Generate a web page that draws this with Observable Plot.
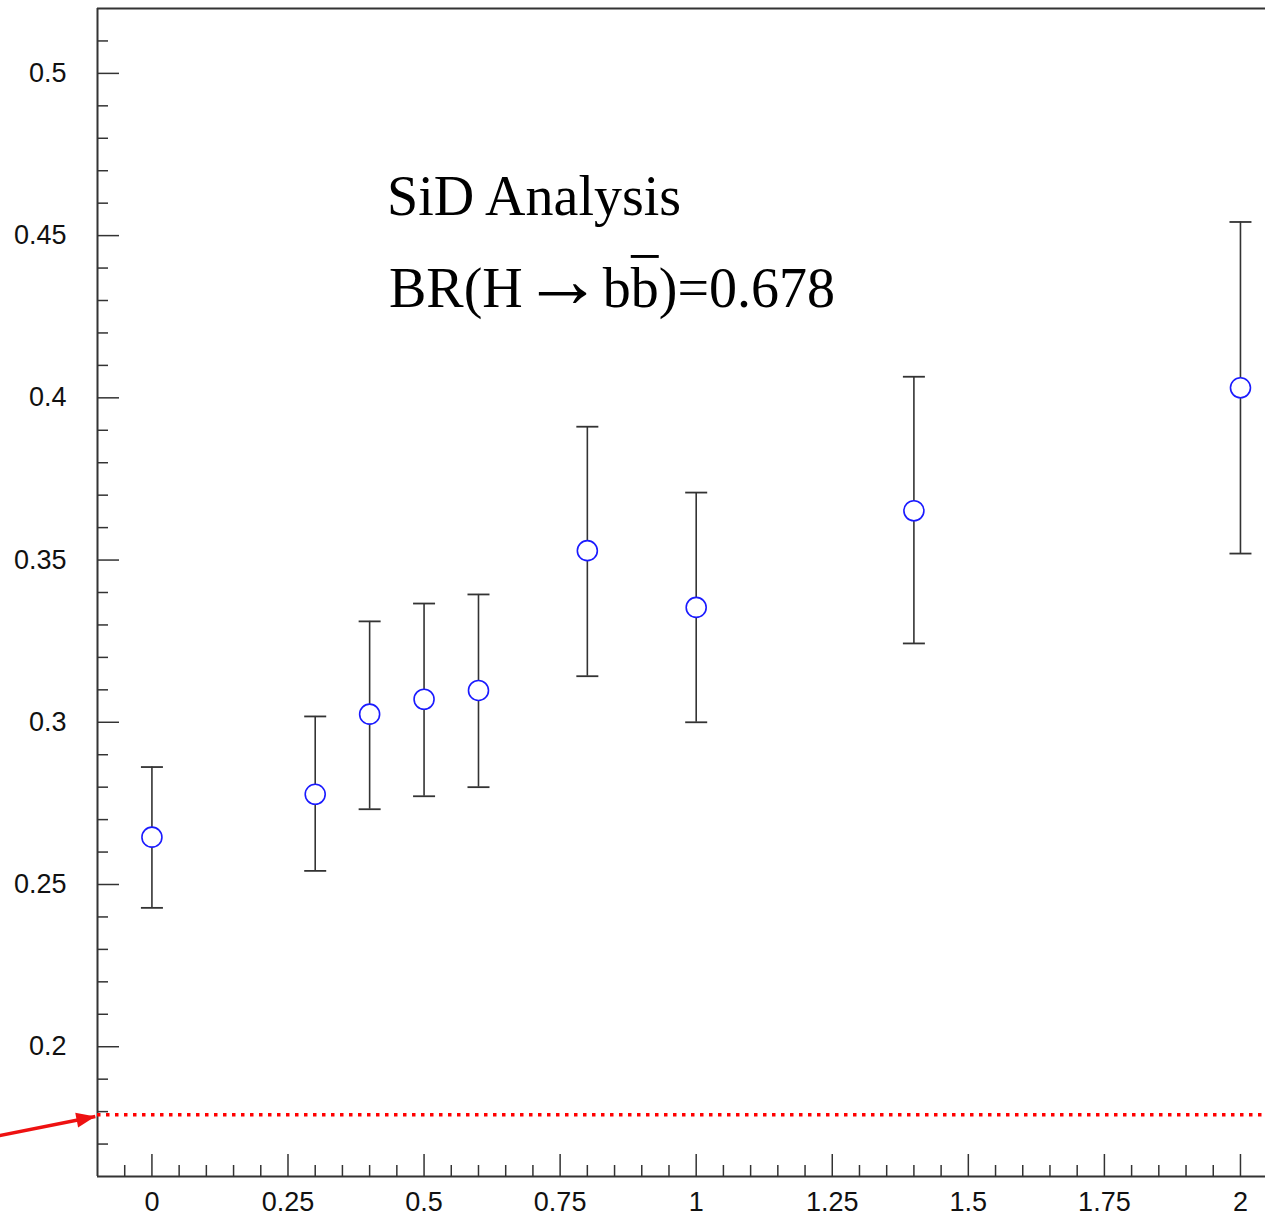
<!DOCTYPE html>
<html>
<head>
<meta charset="utf-8">
<script src="https://cdn.jsdelivr.net/npm/d3@7"></script>
<script src="https://cdn.jsdelivr.net/npm/@observablehq/plot@0.6"></script>
<style>
  html, body { margin: 0; padding: 0; background: #fff; overflow: hidden; }
  #chart svg { display: block; }
</style>
</head>
<body>
<div id="chart"></div>
<script>
// Data
const xValues = [0, 0.3, 0.4, 0.5, 0.6, 0.8, 1.0, 1.4, 2.0];
const yValues = [0.2646, 0.2778, 0.3025, 0.3071, 0.3098, 0.3529, 0.3354, 0.3652, 0.4031];
const yHigh   = [0.2862, 0.3018, 0.3311, 0.3366, 0.3394, 0.3911, 0.3708, 0.4065, 0.4542];
const yLow    = [0.2428, 0.2542, 0.2732, 0.2772, 0.2800, 0.3142, 0.3000, 0.3243, 0.3520];

// Tick labels
const xMajorTicks = [0, 0.25, 0.5, 0.75, 1, 1.25, 1.5, 1.75, 2];
const yMajorTicks = [0.2, 0.25, 0.3, 0.35, 0.4, 0.45, 0.5];
const xMinorTicks = [-0.05, 0.05, 0.1, 0.15, 0.2, 0.3, 0.35, 0.4, 0.45, 0.55, 0.6, 0.65, 0.7, 0.8, 0.85, 0.9, 0.95,
  1.05, 1.1, 1.15, 1.2, 1.3, 1.35, 1.4, 1.45, 1.55, 1.6, 1.65, 1.7, 1.8, 1.85, 1.9, 1.95];
const yMinorTicks = [0.17, 0.18, 0.19, 0.21, 0.22, 0.23, 0.24, 0.26, 0.27, 0.28, 0.29, 0.31, 0.32, 0.33, 0.34,
  0.36, 0.37, 0.38, 0.39, 0.41, 0.42, 0.43, 0.44, 0.46, 0.47, 0.48, 0.49, 0.51];

// Reference line and annotations
const referenceLevel = [0.179];
const arrowStart = [{x: -0.28, y: 0.1726}];
const arrowTip = [{x: -0.104, y: 0.1785}];
const annotationLabels = ["SiD Analysis", "BR(H\u2192bb)=0.678"];
const annotationX = [0.432, 0.4355];
const annotationY = [0.4562, 0.4279];

const points = xValues.map((x, i) => ({x, y: yValues[i], lo: yLow[i], hi: yHigh[i]}));
const ends = points.flatMap(d => [{x: d.x, y: d.lo}, {x: d.x, y: d.hi}]);
const notes = annotationLabels.map((t, i) => ({t, x: annotationX[i], y: annotationY[i]}));
const arrowLine = [{x1: arrowStart[0].x, y1: arrowStart[0].y, x2: arrowTip[0].x, y2: arrowTip[0].y}];

const capSymbol = { draw(ctx) { ctx.moveTo(-11, 0); ctx.lineTo(11, 0); } };
const headSymbol = { draw(ctx) { ctx.moveTo(0, 0); ctx.lineTo(-7.5, 19); ctx.lineTo(7.5, 19); ctx.closePath(); } };

const fmt = d => String(+d.toFixed(2));
const axisStroke = "#333";

const chart = Plot.plot({
  width: 1265,
  height: 1216,
  marginLeft: 97,
  marginRight: 0,
  marginTop: 8,
  marginBottom: 40,
  style: {fontFamily: "'Liberation Sans', Arial, sans-serif", fontSize: "27px", color: "#111", background: "#fff"},
  x: {domain: [-0.1, 2.046]},
  y: {domain: [0.16, 0.52]},
  marks: [
    // axes: labels
    Plot.axisX({ticks: xMajorTicks, tickSize: 0, tickPadding: 15, tickFormat: fmt, label: null, fill: "#111", fontSize: 27}),
    Plot.axisY({ticks: yMajorTicks, tickSize: 0, tickPadding: 31, tickFormat: fmt, label: null, fill: "#111", fontSize: 27}),
    // axes: inward ticks
    Plot.axisX({ticks: xMajorTicks, tickSize: -22, text: null, label: null, stroke: axisStroke, strokeWidth: 1.5}),
    Plot.axisX({ticks: xMinorTicks, tickSize: -11, text: null, label: null, stroke: axisStroke, strokeWidth: 1.5}),
    Plot.axisY({ticks: yMajorTicks, tickSize: -22, text: null, label: null, stroke: axisStroke, strokeWidth: 1.5}),
    Plot.axisY({ticks: yMinorTicks, tickSize: -11, text: null, label: null, stroke: axisStroke, strokeWidth: 1.5}),
    // frame (left, top, bottom)
    Plot.ruleX([-0.1], {stroke: axisStroke, strokeWidth: 2}),
    Plot.ruleY([0.16], {stroke: axisStroke, strokeWidth: 2}),
    Plot.ruleY([0.52], {stroke: axisStroke, strokeWidth: 2}),
    // reference line
    Plot.ruleY(referenceLevel, {stroke: "#ff0000", strokeWidth: 3.5, strokeDasharray: "3.5 5.5"}),
    // arrow
    Plot.link(arrowLine, {x1: "x1", y1: "y1", x2: "x2", y2: "y2", stroke: "#ee1111", strokeWidth: 3.5, insetEnd: 10}),
    Plot.dot(arrowTip, {x: "x", y: "y", symbol: headSymbol, fill: "#ee1111", stroke: "none", rotate: 79}),
    // error bars
    Plot.ruleX(points, {x: "x", y1: "lo", y2: "hi", stroke: "#333", strokeWidth: 1.6}),
    Plot.dot(ends, {x: "x", y: "y", symbol: capSymbol, stroke: "#333", strokeWidth: 1.8, fill: "none"}),
    // points
    Plot.dot(points, {x: "x", y: "y", r: 10, stroke: "#1a1aff", strokeWidth: 1.6, fill: "#fff"}),
    // annotations
    Plot.text(notes, {x: "x", y: "y", text: "t", textAnchor: "start", lineAnchor: "bottom",
      fontFamily: "'Liberation Serif', 'Times New Roman', serif", fontSize: 56, fill: "#000"})
  ]
});

// second line: larger arrow glyph and overline on the anti-b quark
chart.querySelectorAll("text").forEach(t => {
  if (t.textContent === annotationLabels[1]) {
    t.textContent = "";
    const parts = [
      ["BR(H", null],
      ["\u2192", "arrow"],
      ["b", null],
      ["b", "bar"],
      [")=0.678", null]
    ];
    parts.forEach(([p, kind]) => {
      const ts = document.createElementNS("http://www.w3.org/2000/svg", "tspan");
      ts.textContent = p;
      if (kind === "bar") ts.style.textDecoration = "overline";
      if (kind === "arrow") ts.setAttribute("font-size", 80);
      t.appendChild(ts);
    });
  }
});

document.getElementById("chart").appendChild(chart);
</script>
</body>
</html>
